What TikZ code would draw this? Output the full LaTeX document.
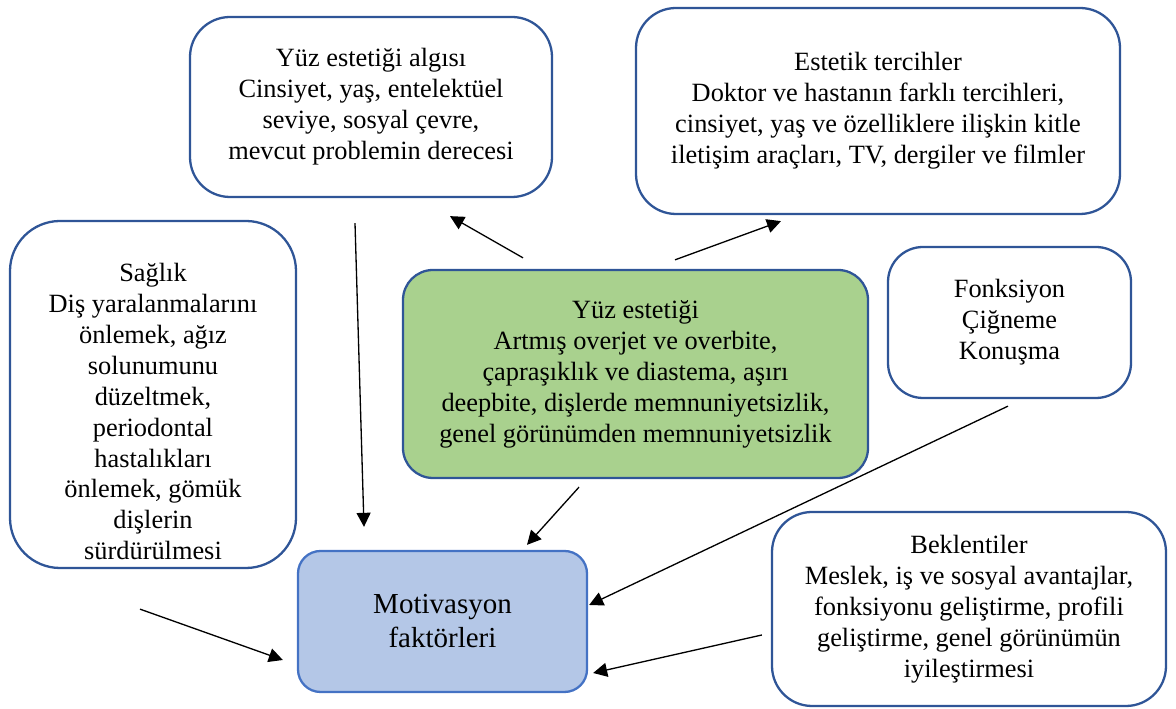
\documentclass[tikz,border=0pt]{standalone}
\usepackage{fontspec}
\setmainfont{Liberation Serif}
\usetikzlibrary{arrows.meta,positioning,calc}
\definecolor{MyBorder}{HTML}{2F5597}
\definecolor{MyGreen}{HTML}{A9D18E}
\definecolor{MyLightBlue}{HTML}{B4C7E7}
\definecolor{MyMidBlue}{HTML}{4472C4}

\begin{document}
\begin{tikzpicture}[
	every node/.style={black, font=\fontsize{15}{17.6}\selectfont},
	box/.style={draw=MyBorder, line width=1.3pt, fill=white, rounded corners=0.8cm, align=center, inner sep=0pt},
	arr/.style={-{Triangle[length=2.8mm, width=2.8mm]}, line width=0.75pt, black}]
	\useasboundingbox (0,0) rectangle (23.52,14.18);
	
	\node[box, minimum width=7.24cm, minimum height=3.6cm] (algisi) at (7.42,12.04) {Yüz estetiği algısı\\Cinsiyet, yaş, entelektüel\\seviye, sosyal çevre,\\mevcut problemin derecesi};
	\node[box, minimum width=9.68cm, minimum height=4.12cm] (tercih) at (17.56,11.96) {Estetik tercihler\\Doktor ve hastanın farklı tercihleri,\\cinsiyet, yaş ve özelliklere ilişkin kitle\\iletişim araçları, TV, dergiler ve filmler};
	\node[box, minimum width=5.72cm, minimum height=6.94cm, rounded corners=1cm] (saglik) at (3.06,6.29) {\rule{0pt}{1.05cm}Sağlık\\Diş yaralanmalarını\\önlemek, ağız\\solunumunu\\düzeltmek,\\periodontal\\hastalıkları\\önlemek, gömük\\dişlerin\\sürdürülmesi};
	\node[box, fill=MyGreen, minimum width=9.3cm, minimum height=4.16cm, rounded corners=0.6cm] (yuz) at (12.71,6.70) {Yüz estetiği\\Artmış overjet ve overbite,\\çapraşıklık ve diastema, aşırı\\deepbite, dişlerde memnuniyetsizlik,\\genel görünümden memnuniyetsizlik};
	\node[box, minimum width=4.86cm, minimum height=3.02cm, rounded corners=0.7cm] (fonk) at (20.19,7.73) {Fonksiyon\\Çiğneme\\Konuşma};
	\node[box, draw=MyMidBlue, fill=MyLightBlue, minimum width=5.78cm, minimum height=2.82cm, rounded corners=0.45cm, font=\fontsize{16.5}{19.3}\selectfont] (motiv) at (8.85,1.75) {Motivasyon\\faktörleri};
	\node[box, minimum width=7.88cm, minimum height=3.88cm] (beklenti) at (19.38,2.00) {Beklentiler\\Meslek, iş ve sosyal avantajlar,\\fonksiyonu geliştirme, profili\\geliştirme, genel görünümün\\iyileştirmesi};
	
	% arrows
	\draw[arr] ([shift={(-2.25,0.22)}]yuz.north) -- ([shift={(1.58,-0.36)}]algisi.south);
	\draw[arr] ([shift={(0.79,0.18)}]yuz.north) -- ([shift={(-1.94,-0.12)}]tercih.south);
	\draw[arr] ([shift={(-0.32,-0.50)}]algisi.south) -- ([shift={(-1.57,0.46)}]motiv.north);
	\draw[arr] ([shift={(-1.13,-0.16)}]yuz.south) -- ([shift={(1.69,0.10)}]motiv.north);
	\draw[arr] ([shift={(-0.03,-0.14)}]fonk.south) -- ([shift={(0.02,0.33)}]motiv.east);
	\draw[arr] ([shift={(-0.26,-0.80)}]saglik.south) -- ([shift={(-0.28,-0.77)}]motiv.west);
	\draw[arr] ([shift={(-0.18,-0.52)}]beklenti.west) -- ([shift={(0.10,-1.03)}]motiv.east);
\end{tikzpicture}
\end{document}
